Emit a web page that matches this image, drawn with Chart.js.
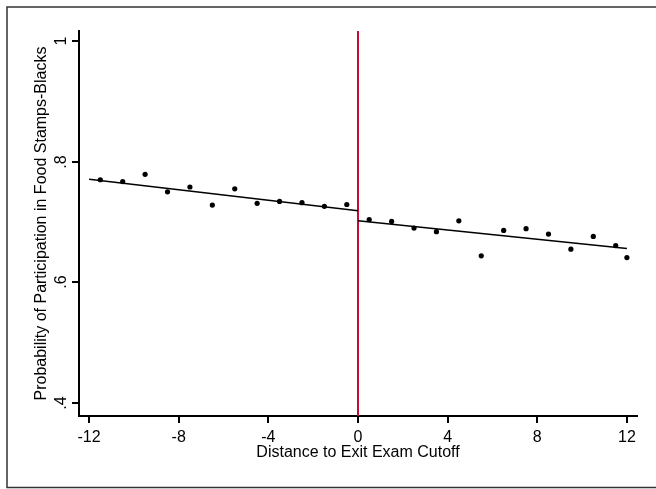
<!DOCTYPE html>
<html>
<head>
<meta charset="utf-8">
<script src="https://cdn.jsdelivr.net/npm/chart.js@4/dist/chart.umd.min.js"></script>
<style>
  html, body { margin: 0; padding: 0; background: #fff; }
  #wrap { width: 656px; height: 489px; }
</style>
</head>
<body>
<div id="wrap"><canvas id="rdChart" width="656" height="489"></canvas></div>
<script>
// bin midpoints (distance to cutoff) and mean participation
const binsLeft = [-11.5, -10.5, -9.5, -8.5, -7.5, -6.5, -5.5, -4.5, -3.5, -2.5, -1.5, -0.5];
const meansLeft = [0.770, 0.767, 0.779, 0.750, 0.758, 0.728, 0.755, 0.731, 0.734, 0.732, 0.726, 0.729];
const binsRight = [0.5, 1.5, 2.5, 3.5, 4.5, 5.5, 6.5, 7.5, 8.5, 9.5, 10.5, 11.5, 12];
const meansRight = [0.704, 0.701, 0.690, 0.684, 0.702, 0.644, 0.686, 0.689, 0.680, 0.655, 0.676, 0.661, 0.641];

// fitted lines each side of the cutoff
const fitLeftX = [-12, 0];
const fitLeftY = [0.771, 0.7185];
const fitRightX = [0, 12];
const fitRightY = [0.702, 0.656];

const cutoff = 0;
const xTicks = [-12, -8, -4, 0, 4, 8, 12];
const yTicks = [0.4, 0.6, 0.8, 1];

const FONT = "'Liberation Sans', Arial, sans-serif";

const toPts = (xs, ys) => xs.map((x, i) => ({ x: x, y: ys[i] }));

const extras = {
  id: "extras",
  beforeDatasetsDraw(chart) {
    const { ctx, chartArea, scales } = chart;
    const px = scales.x.getPixelForValue(cutoff);
    ctx.save();
    ctx.strokeStyle = "rgb(196, 12, 50)";
    ctx.lineWidth = 2;
    ctx.beginPath();
    ctx.moveTo(px, chartArea.top);
    ctx.lineTo(px, chartArea.bottom);
    ctx.stroke();
    ctx.restore();
  },
  afterDraw(chart) {
    const { ctx, scales, chartArea } = chart;
    ctx.save();
    // y tick marks + rotated labels like the original
    ctx.fillStyle = "#000";
    ctx.strokeStyle = "#000";
    ctx.lineWidth = 2;
    ctx.font = "16px " + FONT;
    ctx.textAlign = "center";
    ctx.textBaseline = "middle";
    yTicks.forEach(v => {
      const py = Math.round(scales.y.getPixelForValue(v));
      ctx.beginPath();
      ctx.moveTo(chartArea.left - 7, py);
      ctx.lineTo(chartArea.left, py);
      ctx.stroke();
      const label = v === 1 ? "1" : String(v).replace(/^0/, "");
      ctx.save();
      ctx.translate(62, py);
      ctx.rotate(-Math.PI / 2);
      ctx.fillText(label, 0, 0);
      ctx.restore();
    });
    // outer frame
    ctx.strokeStyle = "#333";
    ctx.lineWidth = 1.5;
    ctx.strokeRect(7, 7, 720, 480.5);
    ctx.restore();
  }
};

new Chart(document.getElementById("rdChart").getContext("2d"), {
  type: "scatter",
  data: {
    datasets: [
      {
        label: "left bins",
        data: toPts(binsLeft, meansLeft),
        backgroundColor: "#000",
        borderColor: "#000",
        pointRadius: 2.6,
        pointBorderWidth: 0
      },
      {
        label: "right bins",
        data: toPts(binsRight, meansRight),
        backgroundColor: "#000",
        borderColor: "#000",
        pointRadius: 2.6,
        pointBorderWidth: 0
      },
      {
        type: "line",
        label: "fit left",
        data: toPts(fitLeftX, fitLeftY),
        borderColor: "#000",
        borderWidth: 1.5,
        pointRadius: 0,
        fill: false
      },
      {
        type: "line",
        label: "fit right",
        data: toPts(fitRightX, fitRightY),
        borderColor: "#000",
        borderWidth: 1.5,
        pointRadius: 0,
        fill: false
      }
    ]
  },
  options: {
    responsive: false,
    animation: false,
    layout: { padding: { left: 8, right: 19, top: 31, bottom: 8 } },
    plugins: {
      legend: { display: false },
      tooltip: { enabled: false }
    },
    scales: {
      x: {
        type: "linear",
        min: -12.45,
        max: 12.45,
        afterBuildTicks: s => { s.ticks = xTicks.map(v => ({ value: v })); },
        afterFit: s => { s.height = 65; },
        ticks: {
          color: "#000",
          font: { family: FONT, size: 16 },
          padding: 5,
          maxRotation: 0,
          callback: v => String(v)
        },
        grid: {
          display: true,
          drawOnChartArea: false,
          drawTicks: true,
          tickLength: 7,
          color: "#000",
          lineWidth: 2
        },
        border: { display: true, color: "#000", width: 2 },
        title: {
          display: true,
          text: "Distance to Exit Exam Cutoff",
          color: "#000",
          font: { family: FONT, size: 16 },
          padding: { top: 0, bottom: 18.5 }
        }
      },
      y: {
        type: "linear",
        min: 0.3785,
        max: 1.0165,
        afterBuildTicks: s => { s.ticks = yTicks.map(v => ({ value: v })); },
        afterFit: s => { s.width = 71; },
        // labels and tick marks are drawn by the plugin
        ticks: { display: false },
        grid: { display: false },
        border: { display: true, color: "#000", width: 2 },
        title: {
          display: true,
          text: "Probability of Participation in Food Stamps-Blacks",
          color: "#000",
          font: { family: FONT, size: 16 },
          padding: { top: 24, bottom: 0 }
        }
      }
    }
  },
  plugins: [extras]
});
</script>
</body>
</html>
